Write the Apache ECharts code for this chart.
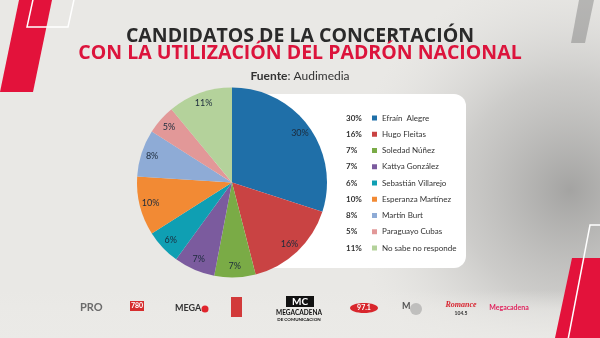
<!DOCTYPE html>
<html>
<head>
<meta charset="utf-8">
<script src="https://cdn.jsdelivr.net/npm/echarts@6/dist/echarts.min.js"></script>
<style>
html,body{margin:0;padding:0;}
#chart{width:600px;height:338px;}
</style>
</head>
<body>
<div id="chart"></div>
<script>
const candidates = ['Efraín  Alegre','Hugo Fleitas','Soledad Núñez','Kattya González','Sebastián Villarejo','Esperanza Martínez','Martín Burt','Paraguayo Cubas','No sabe no responde'];
const shares = [30,16,7,7,6,10,8,5,11];
const colors = ['#1f6fa8','#c94343','#7aab46','#7b5b9e','#0f9fb3','#f28a34','#8eabd6','#e29898','#b4d29b'];
const titleLine1 = 'CANDIDATOS DE LA CONCERTACIÓN';
const titleLine2 = 'CON LA UTILIZACIÓN DEL PADRÓN NACIONAL';
const sourceLabel = 'Fuente';
const sourceName = 'Audimedia';

const pieData = candidates.map((n,i)=>({name:n, value:shares[i], itemStyle:{color:colors[i]}}));
const labelData = candidates.map((n,i)=>({name:n, value:shares[i]}));
const legendData = candidates.map((n,i)=>({name:n, itemStyle:{color:colors[i]}}));
const pctOf = {}; candidates.forEach((n,i)=>pctOf[n]=shares[i]);

const chart = echarts.init(document.getElementById('chart'));
const legendCommon = {
  orient:'vertical', top:107.5, itemGap:5.25, selectedMode:false,
  textStyle:{fontFamily:'Lato', fontSize:8, color:'#333', lineHeight:11}
};
chart.setOption({
  backgroundColor:'#e9e8e5',
  animation:false,
  title:[
    {text:titleLine1, left:'center', top:21, textStyle:{fontFamily:'Open Sans', fontWeight:'bold', fontSize:19.5, color:'#2a2a2a'}},
    {text:titleLine2, left:'center', top:38.5, textStyle:{fontFamily:'Open Sans', fontWeight:'bold', fontSize:19.5, color:'#dc143c'}},
    {text:'{b|'+sourceLabel+'}: '+sourceName, left:'center', top:65, textStyle:{fontFamily:'Lato', fontWeight:'normal', fontSize:12, color:'#333', rich:{b:{fontFamily:'Lato', fontWeight:'bold', fontSize:12, color:'#333'}}}}
  ],
  legend:[
    Object.assign({}, legendCommon, {left:335, icon:'none', itemWidth:1, itemHeight:6, data:legendData,
      formatter:n=>pctOf[n]+'%', textStyle:Object.assign({}, legendCommon.textStyle, {fontWeight:'bold'})}),
    Object.assign({}, legendCommon, {left:367, icon:'rect', itemWidth:5, itemHeight:5, data:legendData})
  ],
  graphic:[
    {type:'circle', z:-10, silent:true, shape:{cx:570, cy:190, r:220},
      style:{fill:{type:'radial', x:0.5, y:0.5, r:0.5, colorStops:[{offset:0,color:'rgba(95,95,95,0.5)'},{offset:0.5,color:'rgba(130,130,130,0.28)'},{offset:1,color:'rgba(200,200,200,0)'}]}}},
    {type:'rect', z:-9, silent:true, shape:{x:0, y:290, width:600, height:48},
      style:{fill:{type:'linear', x:0, y:0, x2:0, y2:1, colorStops:[{offset:0,color:'rgba(235,234,231,0)'},{offset:0.4,color:'rgba(235,234,231,0.6)'},{offset:1,color:'rgba(235,234,231,0.9)'}]}}},
    {type:'polygon', z:-5, silent:true, shape:{points:[[19,0],[52,0],[33,92],[0,92]]}, style:{fill:'#e3123b'}},
    {type:'polygon', z:-4, silent:true, shape:{points:[[34,-5],[75,-5],[68,27],[27,27]]}, style:{fill:'none', stroke:'#ffffff', lineWidth:1.5}},
    {type:'polygon', z:-5, silent:true, shape:{points:[[579,0],[594,0],[585,43],[571,43]]}, style:{fill:'rgba(110,110,110,0.4)'}},
    {type:'polygon', z:-5, silent:true, shape:{points:[[572,258],[600,258],[600,338],[555,338]]}, style:{fill:'#e3123b'}},
    {type:'polyline', z:-4, silent:true, shape:{points:[[605,225],[590,225],[567,345]]}, style:{fill:'none', stroke:'#ffffff', lineWidth:1.5}},
    {type:'rect', z:-3, silent:true, shape:{x:215, y:94, width:251, height:174, r:12}, style:{fill:'#ffffff'}},
    // logos (text approximations)
    {type:'text', silent:true, style:{x:80, y:302, text:'PRO', font:'bold 11px Lato', fill:'#6b6b6b'}},
    {type:'rect', silent:true, shape:{x:130, y:301, width:14, height:10}, style:{fill:'#d62d2d'}},
    {type:'text', silent:true, style:{x:131, y:302, text:'780', font:'bold 7px Lato', fill:'#ffffff'}},
    {type:'text', silent:true, style:{x:175, y:304, text:'MEGA', font:'bold 9px Lato', fill:'#333'}},
    {type:'circle', silent:true, shape:{cx:205, cy:309, r:3.5}, style:{fill:'#e0242c'}},
    {type:'rect', silent:true, shape:{x:231, y:297, width:11, height:20}, style:{fill:'#d23a3a'}},
    {type:'rect', silent:true, shape:{x:286, y:296, width:28, height:11}, style:{fill:'#111'}},
    {type:'text', silent:true, style:{x:300, y:297, text:'MC', align:'center', font:'bold 10px Lato', fill:'#ffffff'}},
    {type:'text', silent:true, style:{x:299, y:309, text:'MEGACADENA', align:'center', font:'bold 6.5px Lato', fill:'#111'}},
    {type:'text', silent:true, style:{x:299, y:317, text:'DE COMUNICACION', align:'center', font:'bold 4.5px Lato', fill:'#111'}},
    {type:'ellipse', silent:true, shape:{cx:364, cy:308, rx:14, ry:5}, style:{fill:'#d8262c'}},
    {type:'text', silent:true, style:{x:364, y:304, text:'97.1', align:'center', font:'bold 7px Lato', fill:'#ffffff'}},
    {type:'text', silent:true, style:{x:402, y:302, text:'M', font:'bold 9px Lato', fill:'#555'}},
    {type:'circle', silent:true, shape:{cx:416, cy:309, r:6}, style:{fill:'rgba(150,150,150,0.5)'}},
    {type:'text', silent:true, style:{x:461, y:301, text:'Romance', align:'center', font:'italic bold 8px serif', fill:'#d8242f'}},
    {type:'text', silent:true, style:{x:461, y:311, text:'104.5', align:'center', font:'bold 5px Lato', fill:'#333'}},
    {type:'text', silent:true, style:{x:509, y:304, text:'Megacadena', align:'center', font:'bold 7px Lato', fill:'#e0245e'}}
  ],
  series:[
    {type:'pie', center:[232,182.5], radius:95, startAngle:90, clockwise:true,
      label:{show:false}, labelLine:{show:false}, emphasis:{disabled:true}, silent:true, data:pieData},
    {type:'pie', center:[232,182.5], radius:[67,95], startAngle:90, clockwise:true, silent:true,
      itemStyle:{color:'rgba(0,0,0,0)'}, emphasis:{disabled:true},
      label:{show:true, position:'inside', formatter:'{c}%', fontFamily:'Lato', fontSize:9, color:'#1c2b3c'},
      labelLine:{show:false}, data:labelData}
  ]
});
</script>
</body>
</html>
